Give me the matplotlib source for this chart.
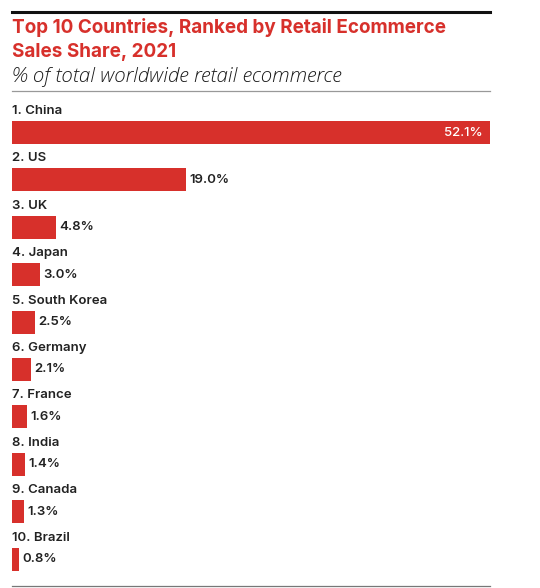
import matplotlib
matplotlib.use("Agg")
import matplotlib.pyplot as plt
from matplotlib.lines import Line2D

countries = ["China", "US", "UK", "Japan", "South Korea", "Germany",
             "France", "India", "Canada", "Brazil"]
shares = [52.1, 19.0, 4.8, 3.0, 2.5, 2.1, 1.6, 1.4, 1.3, 0.8]
value_labels = ["52.1%", "19.0%", "4.8%", "3.0%", "2.5%", "2.1%",
                "1.6%", "1.4%", "1.3%", "0.8%"]

title_lines = ["Top 10 Countries, Ranked by Retail Ecommerce", "Sales Share, 2021"]
subtitle = "% of total worldwide retail ecommerce"

RED = "#d7302b"
W, H = 540, 588
fig = plt.figure(figsize=(W / 100, H / 100), dpi=100)
fig.patch.set_facecolor("white")

def fx(px):
    return px / W

def fy(py):
    return 1 - py / H

# axes geometry
pitch = 47.4
c0 = 132.5
top_px = c0 - pitch * 0.75
bot_px = c0 + pitch * 9.5
ax = fig.add_axes([fx(12), fy(bot_px), fx(490) - fx(12), (bot_px - top_px) / H])
ax.set_xlim(0, max(shares))
ax.set_ylim(9.5, -0.75)
ax.axis("off")

ys = list(range(len(countries)))
ax.barh(ys, shares, height=23 / pitch, color=RED, edgecolor="none")

for i, (c, v, lab) in enumerate(zip(countries, shares, value_labels)):
    ax.text(0, i - 21.5 / pitch, f"{i + 1}. {c}", ha="left", va="center",
            fontsize=9.5, fontweight="semibold", family=["Inter", "DejaVu Sans"],
            color="#222222")
    if i == 0:
        ax.annotate(lab, (v, i), xytext=(-5, 0), textcoords="offset points",
                    ha="right", va="center", fontsize=9.5, color="white",
                    fontweight="medium", family=["Inter", "DejaVu Sans"])
    else:
        ax.annotate(lab, (v, i), xytext=(2.5, 0), textcoords="offset points",
                    ha="left", va="center", fontsize=9.5, color="#222222",
                    fontweight="semibold", family=["Inter", "DejaVu Sans"])

# title
for k, line in enumerate(title_lines):
    fig.text(fx(12), fy(33 + 24 * k), line, ha="left", va="baseline", fontsize=13.6,
             fontweight="bold", color=RED, family=["Inter", "DejaVu Sans"])
fig.text(fx(12), fy(82), subtitle, ha="left", va="baseline", fontsize=14.8,
         style="italic", fontweight="light", color="#1a1a1a",
         family=["Open Sans", "DejaVu Sans"])

# rules
fig.add_artist(Line2D([fx(12), fx(490)], [fy(12), fy(12)], color="#111111", lw=2.2))
fig.add_artist(Line2D([fx(12), fx(490)], [fy(90.5), fy(90.5)], color="#999999", lw=0.9))
fig.add_artist(Line2D([fx(12), fx(490)], [fy(586), fy(586)], color="#777777", lw=0.9))

fig.savefig("out.png", dpi=100, facecolor="white")
